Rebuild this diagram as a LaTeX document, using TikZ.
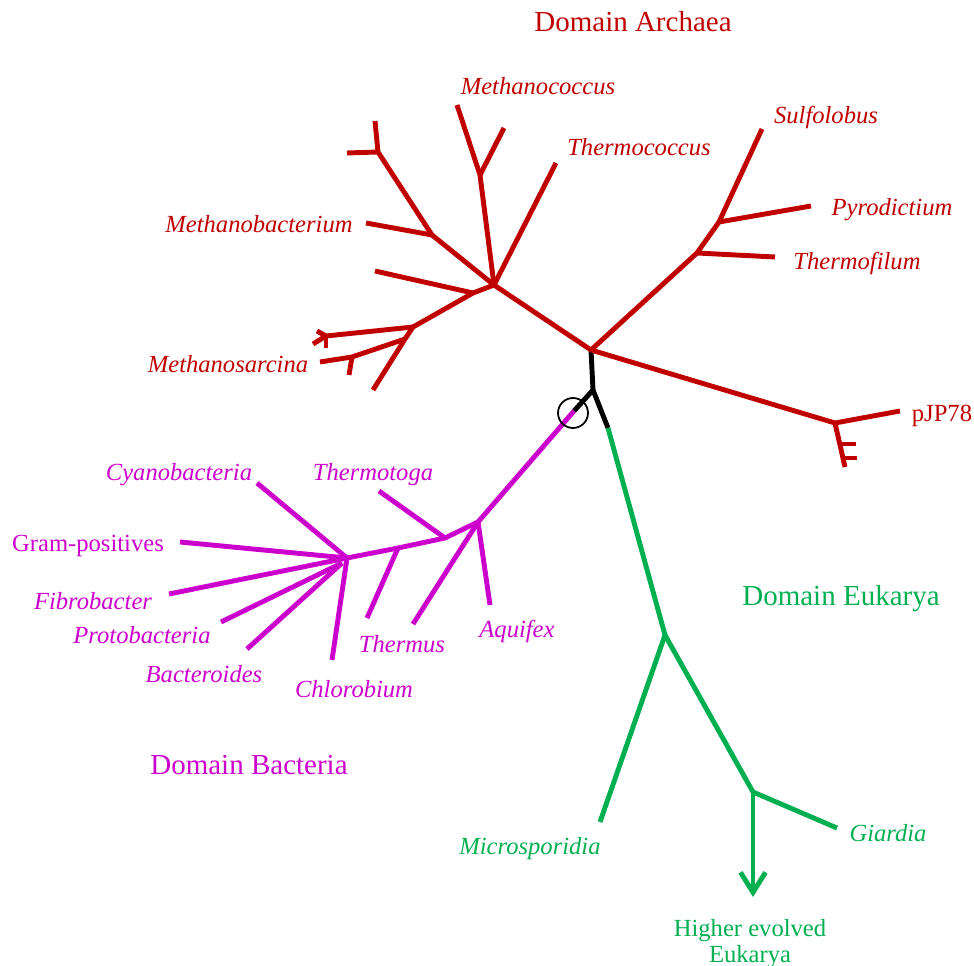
\documentclass[tikz,border=0pt]{standalone}
\usepackage{fontspec}
\setmainfont{Liberation Serif}
\usetikzlibrary{arrows.meta}
\definecolor{arcred}{RGB}{192,0,0}
\definecolor{bacmag}{RGB}{204,0,204}
\definecolor{eukgreen}{RGB}{0,176,80}
\tikzstyle{aline}=[-, line width=2.8pt, draw=arcred, line join=round]
\tikzstyle{bline}=[-, line width=2.8pt, draw=bacmag, line join=round]
\tikzstyle{eline}=[-, line width=2.8pt, draw=eukgreen, line join=round]
\tikzstyle{rline}=[-, line width=2.8pt, draw=black, line join=round]
\tikzstyle{ring}=[circle, draw=black, line width=1pt, minimum size=6mm, inner sep=0pt]
\tikzstyle{tlab}=[anchor=base, inner sep=0pt, font=\fontsize{14}{16}\selectfont\itshape]
\tikzstyle{ulab}=[anchor=base, inner sep=0pt, font=\fontsize{14}{16}\selectfont]
\tikzstyle{dlab}=[anchor=base, inner sep=0pt, font=\fontsize{16.5}{19}\selectfont]

\begin{document}
\begin{tikzpicture}[x=0.02cm,y=-0.02cm]
\useasboundingbox (0,0) rectangle (974,966);
\coordinate (ROOT) at (593,390);
\coordinate (ARC) at (591,350);
\coordinate (BAC) at (574,411);
\coordinate (EUK) at (608,428);
\coordinate (A1) at (494,285);
\coordinate (B1) at (432,235);
\coordinate (B2) at (378,152);
\coordinate (B2a) at (375,121);
\coordinate (B2b) at (347,153);
\coordinate (B1t) at (366,223);
\coordinate (C1) at (480,175);
\coordinate (C1a) at (457,105);
\coordinate (C1b) at (504,128);
\coordinate (THCt) at (556,163);
\coordinate (D1) at (473,293);
\coordinate (D1t) at (375,271);
\coordinate (E1) at (413,327);
\coordinate (F1) at (326,336);
\coordinate (F1a) at (313,344);
\coordinate (F1b) at (326,348);
\coordinate (F1c) at (317,331);
\coordinate (E2) at (405,339);
\coordinate (E2t) at (373,390);
\coordinate (G1) at (352,357);
\coordinate (G1t) at (320,362);
\coordinate (G1s) at (349,375);
\coordinate (S1) at (697,253);
\coordinate (S1t) at (775,257);
\coordinate (S2) at (719,222);
\coordinate (S2a) at (811,206);
\coordinate (S2b) at (762,129);
\coordinate (P1) at (835,423);
\coordinate (P1t) at (900,411);
\coordinate (P2) at (845,467);
\coordinate (P3) at (840,444);
\coordinate (P3t) at (856,444);
\coordinate (P4) at (843,458);
\coordinate (P4t) at (857,458);
\coordinate (H1) at (478,522);
\coordinate (H1t) at (413,624);
\coordinate (AQUt) at (490,605);
\coordinate (T1) at (445,538);
\coordinate (T1t) at (379,491);
\coordinate (T2) at (398,548);
\coordinate (T2t) at (367,618);
\coordinate (BN) at (347,558);
\coordinate (BN2) at (342,563);
\coordinate (CYAt) at (257,483);
\coordinate (GRAMt) at (180,542);
\coordinate (FIBt) at (169,594);
\coordinate (PROt) at (221,622);
\coordinate (BCTt) at (247,649);
\coordinate (CHLt) at (332,660);
\coordinate (K1) at (665,635);
\coordinate (K2) at (753,792);
\coordinate (MICt) at (600,822);
\coordinate (GIAt) at (837,828);
\coordinate (HIGHt) at (753,897);

\node (DARC) [dlab, text=arcred] at (633,32) {Domain Archaea};
\node (METC) [tlab, text=arcred] at (538,95) {Methanococcus};
\node (THC) [tlab, text=arcred] at (639,156) {Thermococcus};
\node (SUL) [tlab, text=arcred] at (826,124) {Sulfolobus};
\node (PYR) [tlab, text=arcred] at (892,216) {Pyrodictium};
\node (THF) [tlab, text=arcred] at (857,270) {Thermofilum};
\node (METB) [tlab, text=arcred] at (259,233) {Methanobacterium};
\node (METS) [tlab, text=arcred] at (228,373) {Methanosarcina};
\node (PJP) [ulab, text=arcred] at (942,421) {pJP78};
\node (CYA) [tlab, text=bacmag] at (179,480) {Cyanobacteria};
\node (TMG) [tlab, text=bacmag] at (373,480) {Thermotoga};
\node (GRAM) [ulab, text=bacmag] at (88,551) {Gram-positives};
\node (FIB) [tlab, text=bacmag] at (93,609) {Fibrobacter};
\node (PRO) [tlab, text=bacmag] at (142,643) {Protobacteria};
\node (BCT) [tlab, text=bacmag] at (204,682) {Bacteroides};
\node (CHL) [tlab, text=bacmag] at (354,697) {Chlorobium};
\node (THS) [tlab, text=bacmag] at (402,652) {Thermus};
\node (AQU) [tlab, text=bacmag] at (517,637) {Aquifex};
\node (DBAC) [dlab, text=bacmag] at (249,774) {Domain Bacteria};
\node (DEUK) [dlab, text=eukgreen] at (841,605) {Domain Eukarya};
\node (MIC) [tlab, text=eukgreen] at (530,854) {Microsporidia};
\node (GIA) [tlab, text=eukgreen] at (888,841) {Giardia};
\node (HIGH) [ulab, text=eukgreen, align=center, anchor=north] at (750,919) {Higher evolved\\[-1pt]Eukarya};

 \draw[rline] (ARC) -- (ROOT) -- (BAC);
 \draw[rline] (ROOT) -- (EUK);
 \draw[aline] (ARC) -- (A1);
 \draw[aline] (A1) -- (B1) -- (B2) -- (B2a);
 \draw[aline] (B2) -- (B2b);
 \draw[aline] (B1) -- (B1t);
 \draw[aline] (A1) -- (C1) -- (C1a);
 \draw[aline] (C1) -- (C1b);
 \draw[aline] (A1) -- (THCt);
 \draw[aline] (A1) -- (D1) -- (E1) -- (E2) -- (E2t);
 \draw[aline] (D1) -- (D1t);
 \draw[aline] (E1) -- (F1) -- (F1a);
 \draw[aline] (F1) -- (F1b);
 \draw[aline] (F1) -- (F1c);
 \draw[aline] (E2) -- (G1) -- (G1t);
 \draw[aline] (G1) -- (G1s);
 \draw[aline] (ARC) -- (S1) -- (S2) -- (S2b);
 \draw[aline] (S1) -- (S1t);
 \draw[aline] (S2) -- (S2a);
 \draw[aline] (ARC) -- (P1) -- (P1t);
 \draw[aline] (P1) -- (P2);
 \draw[aline] (P3) -- (P3t);
 \draw[aline] (P4) -- (P4t);
 \draw[bline] (BAC) -- (H1) -- (H1t);
 \draw[bline] (H1) -- (AQUt);
 \draw[bline] (H1) -- (T1) -- (T2) -- (BN);
 \draw[bline] (T1) -- (T1t);
 \draw[bline] (T2) -- (T2t);
 \draw[bline] (BN) -- (CYAt);
 \draw[bline] (BN) -- (GRAMt);
 \draw[bline] (BN) -- (FIBt);
 \draw[bline] (BN) -- (CHLt);
 \draw[bline] (BN2) -- (PROt);
 \draw[bline] (BN2) -- (BCTt);
 \draw[eline] (EUK) -- (K1) -- (MICt);
 \draw[eline] (K1) -- (K2) -- (GIAt);
 \draw[eline, -{Straight Barb[length=4mm,width=5mm]}] (K2) -- (HIGHt);
\node (RING) [ring] at (573,413) {};
\end{tikzpicture}
\end{document}
